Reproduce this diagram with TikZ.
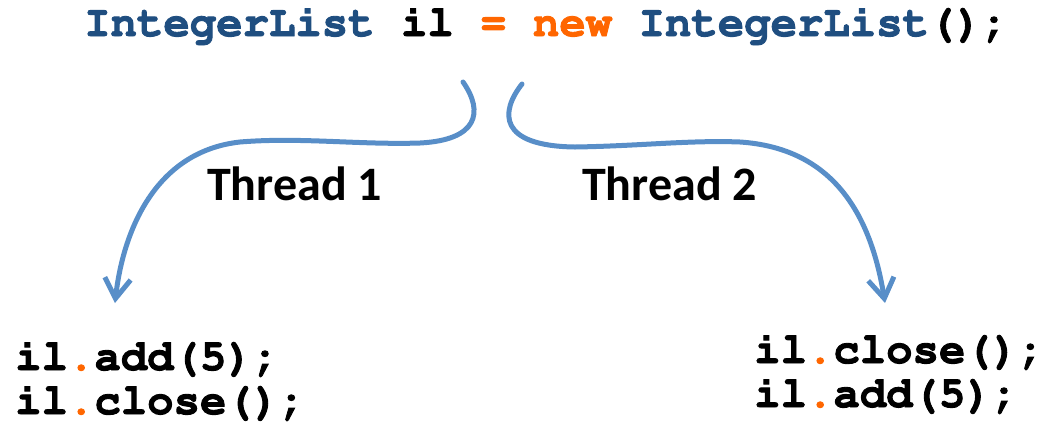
\documentclass[tikz,border=0pt]{standalone}
\usepackage{fontspec}
\usetikzlibrary{arrows.meta}
\newfontfamily\labelfont{Carlito}[BoldFont={* Bold}]
\newcommand{\codefont}{\fontencoding{T1}\fontfamily{pcr}\fontseries{b}\selectfont}
% heavier strokes for the code lines (text drawn filled and outlined)
\newcommand{\heavy}[1]{\special{pdf:code q 2 Tr 0.9 w}#1\special{pdf:code Q}}
\definecolor{kwblue}{RGB}{31,78,128}
\definecolor{kworange}{RGB}{255,102,0}
\definecolor{flowblue}{RGB}{88,142,200}
\newcommand{\dotop}{\textcolor{kworange}{.}}
\tikzset{
  code/.style={anchor=base west, inner sep=0pt, font=\fontsize{44}{44}\codefont},
  threadlabel/.style={anchor=base west, inner sep=0pt, font=\labelfont\bfseries\fontsize{48}{48}\selectfont},
  flow/.style={draw=flowblue, line width=5pt, line cap=round,
    -{Straight Barb[length=20pt, width=26pt, line width=5pt]}}
}
\begin{document}
\begin{tikzpicture}[x=1pt, y=-1pt]
  \useasboundingbox (0,0) rectangle (1043,432);

  % object creation shared by both threads
  \node[code] (decl) at (84,36)
    {\heavy{\textcolor{kwblue}{IntegerList} il \textcolor{kworange}{= new} \textcolor{kwblue}{IntegerList}();}};

  % thread labels
  \node[threadlabel] (t1) at (207,200) {Thread 1};
  \node[threadlabel] (t2) at (582,200) {Thread 2};

  % operations performed by each thread
  \node[code] (l1) at (15,370) {\heavy{il\dotop add(5);}};
  \node[code] (l2) at (15,414) {\heavy{il\dotop close();}};
  \node[code] (r1) at (754,363) {\heavy{il\dotop close();}};
  \node[code] (r2) at (754,407) {\heavy{il\dotop add(5);}};

  % branching arrows
  \coordinate (s1) at (463,82);
  \coordinate (e1) at (115,303);
  \coordinate (s2) at (522,84);
  \coordinate (e2) at (885,303);

  \draw[flow] (s1) .. controls (484,112) and (478,140) .. (420,143)
                   .. controls (360,145) and (300,137) .. (240,142)
                   .. controls (150,152) and (122,240) .. (e1);
  \draw[flow] (s2) .. controls (500,112) and (498,146) .. (575,147)
                   .. controls (640,146) and (690,140) .. (740,142)
                   .. controls (830,148) and (870,210) .. (e2);
\end{tikzpicture}
\end{document}
